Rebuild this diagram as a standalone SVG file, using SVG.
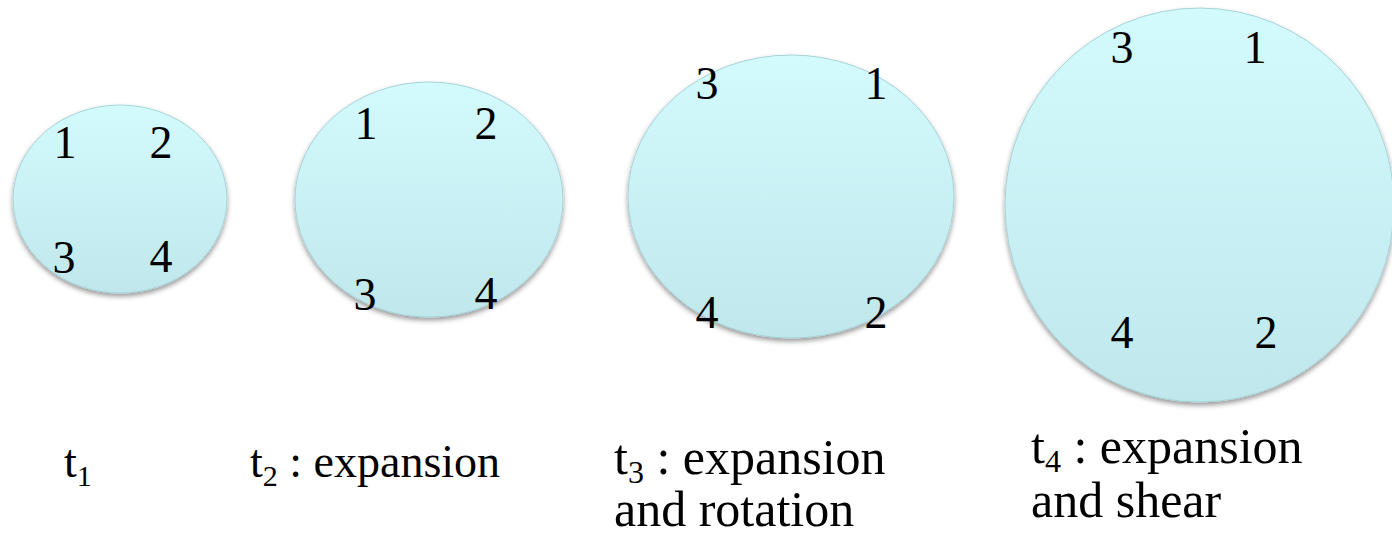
<svg xmlns="http://www.w3.org/2000/svg" width="1392" height="533" viewBox="0 0 1392 533">
  <defs>
    <linearGradient id="fill" x1="0" y1="0" x2="0" y2="1">
      <stop offset="0" stop-color="#D3FBFE"/>
      <stop offset="1" stop-color="#C0E7EB"/>
    </linearGradient>
    <filter id="shadow" x="-10%" y="-10%" width="120%" height="125%">
      <feDropShadow dx="0" dy="3" stdDeviation="2.5" flood-color="#000" flood-opacity="0.4"/>
    </filter>
  </defs>
  <style>
    .blob { fill: url(#fill); stroke: #A6D3D8; stroke-width: 1; filter: url(#shadow); }
    .t { font-family: "Liberation Serif", "Times New Roman", serif; font-size: 46px; fill: #000; }
    .big { font-size: 50px; }
    .num { text-anchor: middle; }
    .sub { font-size: 30px; }
    .big .sub { font-size: 32px; }
  </style>

  <g id="node-t1">
    <ellipse class="blob" cx="120" cy="199" rx="107" ry="94"/>
    <text class="t num" x="65" y="158">1</text>
    <text class="t num" x="161" y="158">2</text>
    <text class="t num" x="64" y="273">3</text>
    <text class="t num" x="161" y="272">4</text>
  </g>

  <g id="node-t2">
    <ellipse class="blob" cx="429" cy="199.5" rx="134" ry="117.5"/>
    <text class="t num" x="366" y="139">1</text>
    <text class="t num" x="486" y="139">2</text>
    <text class="t num" x="365" y="310">3</text>
    <text class="t num" x="486" y="309">4</text>
  </g>

  <g id="node-t3">
    <ellipse class="blob" cx="791" cy="196.5" rx="163" ry="141.5"/>
    <text class="t num" x="707" y="99">3</text>
    <text class="t num" x="876" y="99">1</text>
    <text class="t num" x="707" y="328">4</text>
    <text class="t num" x="876" y="328">2</text>
  </g>

  <g id="node-t4">
    <ellipse class="blob" cx="1199.5" cy="205" rx="194.5" ry="197"/>
    <text class="t num" x="1122" y="63">3</text>
    <text class="t num" x="1255" y="63">1</text>
    <text class="t num" x="1122" y="348">4</text>
    <text class="t num" x="1266" y="348">2</text>
  </g>

  <g id="connectors"></g>

  <g id="labels">
    <text class="t" x="64" y="477">t<tspan class="sub" dy="9">1</tspan></text>
    <text class="t" x="250" y="477">t<tspan class="sub" dy="9">2</tspan><tspan dy="-9"> : expansion</tspan></text>
    <text class="t big" x="614" y="474">t<tspan class="sub" dy="9">3</tspan><tspan dy="-9"> : expansion</tspan></text>
    <text class="t big" x="614" y="526">and rotation</text>
    <text class="t big" x="1031" y="463">t<tspan class="sub" dy="9">4</tspan><tspan dy="-9"> : expansion</tspan></text>
    <text class="t big" x="1031" y="517">and shear</text>
  </g>
</svg>
